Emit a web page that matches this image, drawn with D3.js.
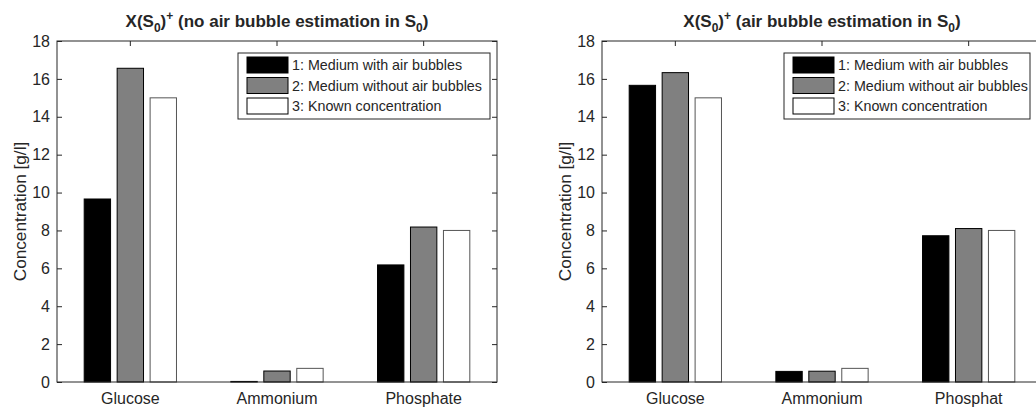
<!DOCTYPE html>
<html>
<head>
<meta charset="utf-8">
<script src="https://cdn.jsdelivr.net/npm/d3@7"></script>
<style>
body { margin: 0; background: #fff; }
text { font-family: "Liberation Sans", Arial, sans-serif; fill: #262626; }
</style>
</head>
<body>
<div id="chart"></div>
<script>
var categories = ['Glucose', 'Ammonium', 'Phosphate'];
var categoriesRight = ['Glucose', 'Ammonium', 'Phosphat'];
var seriesNames = ['1: Medium with air bubbles', '2: Medium without air bubbles', '3: Known concentration'];
var seriesColors = ['#000000', '#808080', '#ffffff'];
// values per category: [with bubbles, without bubbles, known]
var leftValues = [[9.66, 16.56, 15.0], [0.03, 0.58, 0.72], [6.18, 8.18, 8.0]];
var rightValues = [[15.66, 16.33, 15.0], [0.56, 0.57, 0.72], [7.72, 8.1, 8.0]];
var yTicks = [0, 2, 4, 6, 8, 10, 12, 14, 16, 18];

var chart = d3.select('#chart').append('svg')
	.attr('width', 1036)
	.attr('height', 408);

function drawPanel(opts){
	var x0 = opts.left, x1 = opts.left + 440, yTop = 41, yBot = 382;
	var g = chart.append('g');

	var x = d3.scaleBand().domain(d3.range(3)).range([x0, x1]).padding(0);
	var xs = d3.scaleBand().domain(d3.range(3)).range([0, x.bandwidth()])
		.paddingInner(0.2).paddingOuter(0.825);
	var y = d3.scaleLinear().domain([0, 18]).range([yBot, yTop]);

	// ticks top/bottom (inward), at category centers
	g.selectAll('.tt').data(d3.range(3)).enter().append('line')
		.attr('x1', function(d){return x(d) + x.bandwidth()/2;})
		.attr('x2', function(d){return x(d) + x.bandwidth()/2;})
		.attr('y1', yTop).attr('y2', yTop + 5)
		.attr('stroke', '#262626');
	g.selectAll('.tb').data(d3.range(3)).enter().append('line')
		.attr('x1', function(d){return x(d) + x.bandwidth()/2;})
		.attr('x2', function(d){return x(d) + x.bandwidth()/2;})
		.attr('y1', yBot).attr('y2', yBot - 5)
		.attr('stroke', '#262626');
	// right side ticks
	g.append('g')
		.attr('transform', 'translate(' + x1 + ',0)')
		.call(d3.axisRight(y).tickValues(yTicks).tickSizeInner(-5).tickSizeOuter(0).tickFormat(''))
		.call(function(a){ a.select('.domain').remove(); a.selectAll('line').attr('stroke', '#262626'); });

	// bars
	var groups = g.selectAll('.grp').data(opts.values).enter().append('g')
		.attr('transform', function(d,i){return 'translate(' + x(i) + ',0)';});
	groups.selectAll('rect').data(function(d){return d;}).enter().append('rect')
		.attr('x', function(d,i){return xs(i);})
		.attr('width', xs.bandwidth())
		.attr('y', function(d){return y(d);})
		.attr('height', function(d){return yBot - y(d);})
		.attr('fill', function(d,i){return seriesColors[i];})
		.attr('stroke', function(d,i){return i == 2 ? '#555' : '#000';})
		.attr('stroke-width', 1);

	// box
	g.append('rect')
		.attr('x', x0).attr('y', yTop)
		.attr('width', x1 - x0).attr('height', yBot - yTop)
		.attr('fill', 'none').attr('stroke', '#262626').attr('stroke-width', 1);

	// y axis
	var ya = g.append('g')
		.attr('transform', 'translate(' + x0 + ',0)')
		.call(d3.axisLeft(y).tickValues(yTicks).tickSizeInner(-5).tickSizeOuter(0).tickPadding(7));
	ya.select('.domain').remove();
	ya.selectAll('line').attr('stroke', '#262626');
	ya.selectAll('text').attr('font-size', '16px').attr('fill', '#262626')
		.attr('font-family', '"Liberation Sans", Arial, sans-serif');

	// x labels
	var xa = g.append('g')
		.attr('transform', 'translate(0,' + yBot + ')')
		.call(d3.axisBottom(x).tickSize(0).tickPadding(11).tickFormat(function(d){return opts.labels[d];}));
	xa.select('.domain').remove();
	xa.selectAll('text').attr('font-size', '16px').attr('fill', '#262626')
		.attr('font-family', '"Liberation Sans", Arial, sans-serif');

	// y label
	g.append('text')
		.attr('transform', 'translate(' + (x0 - 31) + ',' + ((yTop + yBot)/2) + ') rotate(-90)')
		.attr('text-anchor', 'middle')
		.attr('font-size', '17.2px')
		.text('Concentration [g/l]');

	// title
	var t = g.append('text')
		.attr('x', (x0 + x1)/2).attr('y', 27)
		.attr('text-anchor', 'middle')
		.attr('font-size', '17px')
		.attr('font-weight', 'bold');
	t.append('tspan').text('X(S');
	t.append('tspan').attr('dy', 5).attr('font-size', '12px').text('0');
	t.append('tspan').attr('dy', -5).text(')');
	t.append('tspan').attr('dy', -7).attr('font-size', '12px').text('+');
	t.append('tspan').attr('dy', 7).text(' ' + opts.title + ' S');
	t.append('tspan').attr('dy', 5).attr('font-size', '12px').text('0');
	t.append('tspan').attr('dy', -5).text(')');

	// legend
	var lg = g.append('g').attr('transform', 'translate(' + opts.legendX + ',53)');
	lg.append('rect')
		.attr('width', opts.legendW).attr('height', 66)
		.attr('fill', '#fff').attr('stroke', '#262626').attr('stroke-width', 1);
	var items = lg.selectAll('.li').data(seriesNames).enter().append('g')
		.attr('transform', function(d,i){return 'translate(9,' + (4 + i*20.5) + ')';});
	items.append('rect')
		.attr('width', 41).attr('height', 16)
		.attr('fill', function(d,i){return seriesColors[i];})
		.attr('stroke', '#000');
	items.append('text')
		.attr('x', 45).attr('y', 13)
		.attr('font-size', '14.3px')
		.attr('fill', '#000')
		.text(function(d){return d;});
}

drawPanel({left: 57, values: leftValues, labels: categories, title: '(no air bubble estimation in', legendX: 238, legendW: 252});
drawPanel({left: 602, values: rightValues, labels: categoriesRight, title: '(air bubble estimation in', legendX: 784, legendW: 246});
</script>
</body>
</html>
